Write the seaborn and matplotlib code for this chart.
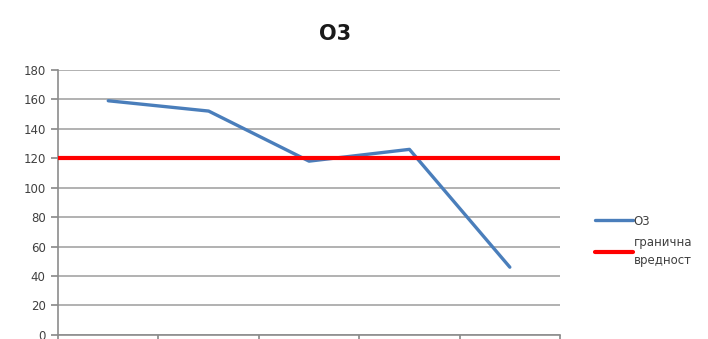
import matplotlib
matplotlib.use("Agg")
import matplotlib.pyplot as plt
import seaborn as sns
import pandas as pd

# Ozone concentration per measurement period and the limit value
periods = [1, 2, 3, 4, 5]
o3_values = [159, 152, 118, 126, 46]
limit_value = 120
series_name = "O3"
limit_name = "гранична\nвредност"
y_ticks = [0, 20, 40, 60, 80, 100, 120, 140, 160, 180]

df = pd.DataFrame({"period": periods, "value": o3_values})

sns.set_theme(style="white")
plt.rcParams["font.family"] = ["DejaVu Sans"]

fig = plt.figure(figsize=(7.08, 3.39), dpi=100)
ax = fig.add_axes([0.082, 0.012, 0.709, 0.782])

sns.lineplot(data=df, x="period", y="value", ax=ax, color="#4a7ebb",
             linewidth=2.4, label=series_name, zorder=3)
ax.axhline(limit_value, color="#ff0000", linewidth=3, label=limit_name, zorder=4)

ax.set_xlim(0.5, 5.5)
ax.set_ylim(0, 180)
ax.set_yticks(y_ticks)
ax.set_xticks([0.5, 1.5, 2.5, 3.5, 4.5, 5.5])
ax.set_xticklabels([])
ax.set_xlabel("")
ax.set_ylabel("")
ax.yaxis.grid(True, color="#ababab", linewidth=1.3)
ax.xaxis.grid(False)
for side in ["top", "right"]:
    ax.spines[side].set_visible(False)
for side in ["left", "bottom"]:
    ax.spines[side].set_color("#8c8c8c")
    ax.spines[side].set_linewidth(1.2)
ax.tick_params(axis="y", left=True, length=5, color="#8c8c8c", labelsize=8.5,
               labelcolor="#404040", pad=4)
ax.tick_params(axis="x", bottom=True, length=5, color="#8c8c8c")

fig.text(0.473, 0.9, "O3", ha="center", va="center", fontsize=15,
         fontweight="bold", color="#1a1a1a")

leg = ax.legend(loc="center left", bbox_to_anchor=(0.825, 0.29),
                bbox_transform=fig.transFigure, frameon=False, fontsize=8.5,
                handlelength=3.2, handletextpad=0.1, labelspacing=0.75,
                labelcolor="#404040")
for txt in leg.get_texts():
    txt.set_linespacing(1.45)

fig.savefig("out.png", dpi=100)
